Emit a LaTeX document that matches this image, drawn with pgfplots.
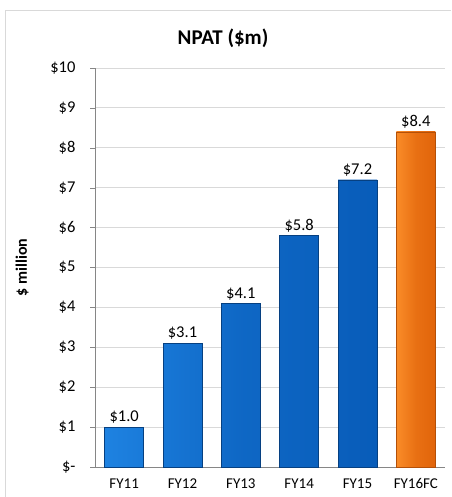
\documentclass[border=0pt]{standalone}
\usepackage{pgfplots}
\pgfplotsset{compat=1.18}
\usepackage{fontspec}
\setmainfont{Carlito}
\definecolor{gridc}{RGB}{217,217,217}
\definecolor{axc}{RGB}{134,134,134}
\definecolor{blueL}{RGB}{30,130,225}
\definecolor{blueD}{RGB}{8,92,185}
\definecolor{orL}{RGB}{250,140,40}
\definecolor{orD}{RGB}{225,100,10}
\begin{document}
\begin{tikzpicture}[x=1pt,y=1pt]
\useasboundingbox[fill=white] (0,0) rectangle (451,497);
\draw[gridc,line width=0.8pt] (5,0) -- (5,487) -- (451,487);
\node[font=\bfseries\fontsize{21}{24}\selectfont] at (223,459) {NPAT (\$m)};
\begin{axis}[
  at={(95pt,30pt)}, anchor=south west,
  scale only axis, width=350pt, height=399pt,
  xmin=-0.5, xmax=5.5, ymin=0, ymax=10,
  ytick={0,1,...,10},
  yticklabels={\$-,\$1,\$2,\$3,\$4,\$5,\$6,\$7,\$8,\$9,\$10},
  xtick={0,...,5},
  xticklabels={FY11,FY12,FY13,FY14,FY15,FY16FC},
  extra x ticks={-0.5,0.5,1.5,2.5,3.5,4.5,5.5},
  extra x tick labels={},
  extra x tick style={major tick length=5pt, tick style={axc}, grid=none},
  major x tick style={draw=none},
  ymajorgrids, grid style={gridc, line width=0.8pt},
  axis x line*=bottom, axis y line*=left,
  axis line style={axc, line width=0.8pt},
  tick align=outside, major tick length=5pt,
  ytick style={axc},
  tick label style={font=\fontsize{15}{17}\selectfont, text=black},
  /pgf/number format/assume math mode=true,
  ylabel={\$ million}, ylabel style={font=\bfseries\fontsize{16}{18}\selectfont, at={(axis description cs:-0.18,0.5)}},
  xticklabel style={yshift=-3pt},
  yticklabel style={xshift=-11pt, font=\fontsize{16.5}{18}\selectfont},
  ybar, bar width=39pt, bar shift=0pt,
  nodes near coords={\$\pgfmathprintnumber[fixed,fixed zerofill,precision=1]{\pgfplotspointmeta}},
  nodes near coords style={font=\fontsize{16.5}{18}\selectfont, text=black},
  clip=false,
]
\addplot[draw=blueD!70!black, line width=0.4pt, left color=blueL, right color=blueD, middle color=blueD!70!blueL] coordinates {(0,1.0) (1,3.1) (2,4.1) (3,5.8) (4,7.2)};
\addplot[draw=orD!80!black, line width=0.4pt, left color=orL, right color=orD, middle color=orD!70!orL] coordinates {(5,8.4)};
\end{axis}
\end{tikzpicture}
\end{document}
